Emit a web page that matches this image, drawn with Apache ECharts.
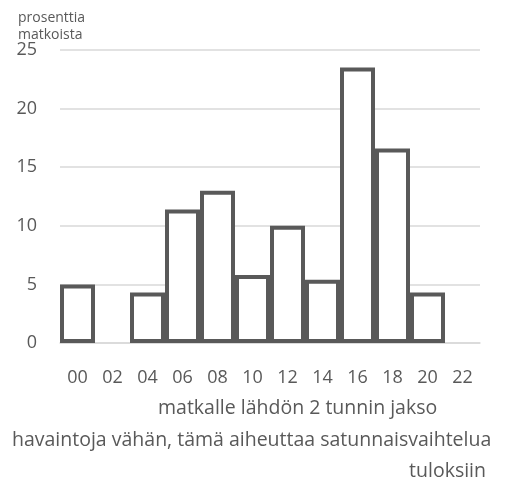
<!DOCTYPE html>
<html>
<head>
<meta charset="utf-8">
<script src="https://cdn.jsdelivr.net/npm/echarts@6/dist/echarts.min.js"></script>
<style>
html,body{margin:0;padding:0;background:#fff;}
#chart{width:508px;height:477px;}
</style>
</head>
<body>
<div id="chart"></div>
<script>
// Data
var categories = ['00','02','04','06','08','10','12','14','16','18','20','22'];
var shares = [5.0, null, 4.3, 11.4, 13.0, 5.8, 10.0, 5.4, 23.5, 16.6, 4.3, null];
var yTicks = [0, 5, 10, 15, 20, 25];
var yAxisTitle = 'prosenttia\nmatkoista';
var xAxisTitle = 'matkalle lähdön 2 tunnin jakso';
var noteLine1 = 'havaintoja vähän, tämä aiheuttaa satunnaisvaihtelua';
var noteLine2 = 'tuloksiin';

var FONT = '"Open Sans", sans-serif';
var TXT = '#595959';
var chart = echarts.init(document.getElementById('chart'), null, {renderer:'canvas'});
chart.setOption({
  backgroundColor: '#fff',
  animation: false,
  grid: {left: 60, right: 28, top: 50, bottom: 134, containLabel: false},
  xAxis: {
    type: 'category',
    data: categories,
    axisLine: {show: true, lineStyle: {color: '#d9d9d9', width: 1.5}},
    axisTick: {show: false},
    axisLabel: {color: TXT, fontSize: 18, fontFamily: FONT, margin: 26, interval: 0}
  },
  yAxis: {
    type: 'value',
    min: yTicks[0],
    max: yTicks[yTicks.length - 1],
    interval: yTicks[1] - yTicks[0],
    axisLine: {show: false},
    axisTick: {show: false},
    splitLine: {lineStyle: {color: '#d9d9d9', width: 1.5}},
    axisLabel: {color: TXT, fontSize: 18, fontFamily: FONT, margin: 23}
  },
  graphic: [
    {type: 'text', left: 18, top: 10, style: {text: yAxisTitle, fill: TXT, fontSize: 14, lineHeight: 17, fontFamily: FONT}},
    {type: 'text', left: 158, top: 398, style: {text: xAxisTitle, fill: TXT, fontSize: 19.5, fontFamily: FONT}},
    {type: 'text', left: 12, top: 430, style: {text: noteLine1, fill: TXT, fontSize: 19.5, fontFamily: FONT}},
    {type: 'text', right: 22, top: 461, style: {text: noteLine2, fill: TXT, fontSize: 19.5, fontFamily: FONT}}
  ],
  series: [{
    type: 'bar',
    data: shares,
    barCategoryGap: '0%',
    itemStyle: {color: '#ffffff', borderColor: '#595959', borderWidth: 4}
  }]
});
</script>
</body>
</html>
